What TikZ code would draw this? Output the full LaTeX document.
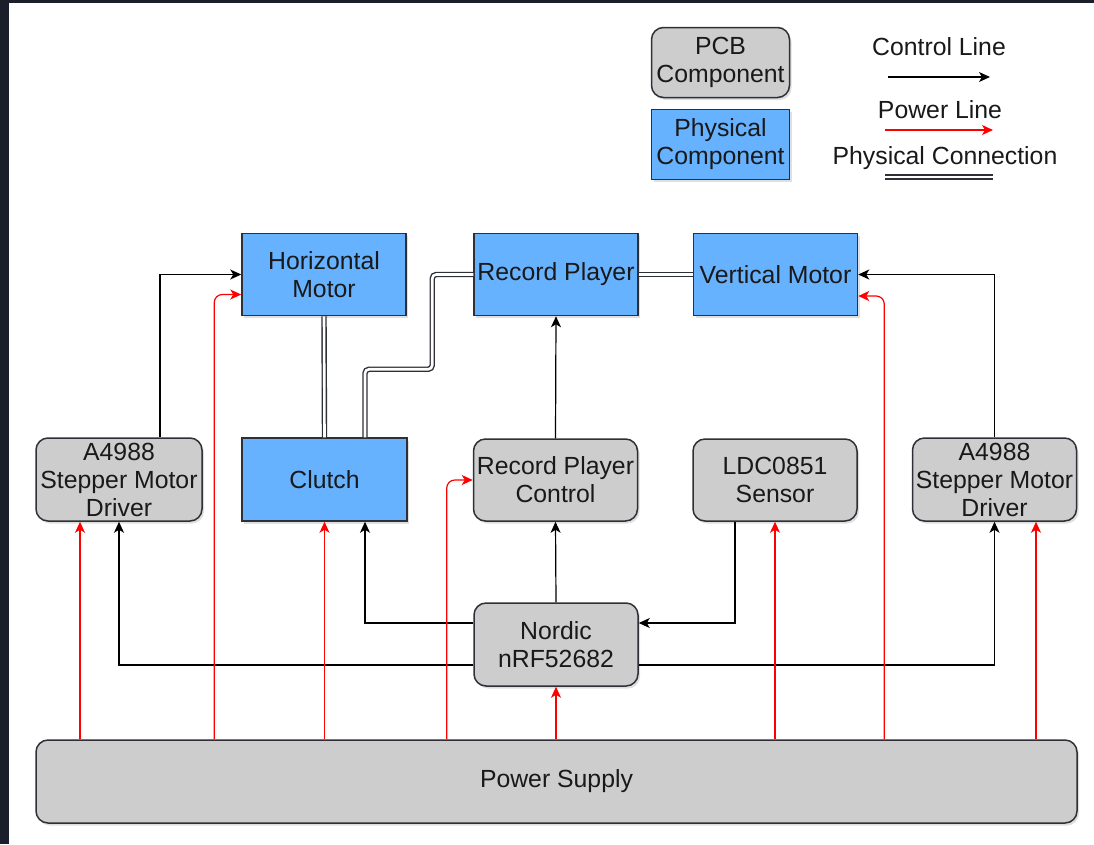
\documentclass[tikz,border=0pt]{standalone}
\usepackage{fontspec}
\setmainfont{Liberation Sans}
\usetikzlibrary{arrows.meta,shadows,calc}
\definecolor{bgdark}{RGB}{27,31,42}
\definecolor{physblue}{RGB}{102,178,255}
\definecolor{pcbgray}{RGB}{205,205,205}
\definecolor{edgedark}{RGB}{45,48,54}
\definecolor{pwrred}{RGB}{255,0,0}
\definecolor{txt}{RGB}{25,25,25}
\tikzset{
  box/.style={draw=edgedark, line width=1.5pt, minimum width=164pt, minimum height=82pt,
    inner sep=0pt, align=center, text=txt, font=\fontsize{24.8}{28}\selectfont,
    drop shadow={opacity=0.25, shadow xshift=2pt, shadow yshift=-2.5pt}},
  pcb/.style={box, fill=pcbgray, rounded corners=12pt},
  phys/.style={box, fill=physblue},
  lbl/.style={inner sep=0pt, text=txt, font=\fontsize{24.8}{28}\selectfont},
  ctl/.style={draw=black, line width=1.2pt, -{Stealth[length=11pt,width=10pt,inset=3pt]}},
  pwr/.style={draw=pwrred, line width=1.2pt, rounded corners=8pt, -{Stealth[length=11pt,width=10pt,inset=3pt]}},
  link/.style={draw=edgedark, line width=1.4pt, double=white, double distance=2.6pt, rounded corners=4pt},
}
\begin{document}
\begin{tikzpicture}[x=1pt,y=-1pt]
\fill[bgdark] (0,0) rectangle (1094,844);
\fill[white] (8.5,2.5) rectangle (1094,844);
\useasboundingbox (0,0) rectangle (1094,844);

% legend
\node[pcb, minimum width=138pt, minimum height=70pt] (lpcb) at (720.5,62.5) {PCB\\Component};
\node[phys, minimum width=138pt, minimum height=70pt] (lphys) at (720.5,144.5) {Physical\\Component};
\node[lbl] (lctl) at (939,47) {Control Line};
\node[lbl] (lpwr) at (940,110) {Power Line};
\node[lbl] (llink) at (945,158) {Physical Connection};
\coordinate (c1a) at (888,77); \coordinate (c1b) at (990,77);
\coordinate (c2a) at (885,130); \coordinate (c2b) at (993,130);
\coordinate (c3a) at (885,177); \coordinate (c3b) at (993,177);
\draw[ctl] (c1a) -- (c1b);
\draw[pwr] (c2a) -- (c2b);
\draw[link] (c3a) -- (c3b);

% main nodes
\node[phys] (hm) at (324,274.5) {Horizontal\\Motor};
\node[phys] (rp) at (556,274.5) {Record Player};
\node[phys] (vm) at (775.5,274.5) {Vertical Motor};
\node[pcb, minimum width=166pt, minimum height=83pt] (drvL) at (119,479.5) {A4988\\Stepper Motor\\Driver};
\node[phys, minimum width=165pt, minimum height=83pt] (clutch) at (324.5,479.5) {Clutch};
\node[pcb] (rpc) at (555.5,480) {Record Player\\Control};
\node[pcb] (ldc) at (775,480) {LDC0851\\Sensor};
\node[pcb, minimum height=83pt] (drvR) at (994.5,479.5) {A4988\\Stepper Motor\\Driver};
\node[pcb, minimum height=83pt] (nordic) at (556,644.5) {Nordic\\nRF52682};
\node[pcb, minimum width=1041pt, minimum height=83pt] (ps) at (556.5,781.5) {Power Supply};

% physical connections
\draw[link] (hm.south) -- (clutch.north);
\draw[link] ([xshift=40.5pt]clutch.north) -- ++(0,-68) -| ([xshift=-41pt]rp.west) -- (rp.west);
\draw[link] (rp.east) -- (vm.west);

% control lines
\draw[ctl] ([xshift=41pt]drvL.north) |- (hm.west);
\draw[ctl] ([yshift=21.5pt]nordic.west) -| ([xshift=40.5pt]clutch.south);
\draw[ctl] ([yshift=-20.5pt]nordic.west) -| (drvL.south);
\draw[ctl] (nordic.north) -- (rpc.south);
\draw[ctl] (rpc.north) -- (rp.south);
\draw[ctl] ([xshift=-40pt]ldc.south) |- ([yshift=21.5pt]nordic.east);
\draw[ctl] ([yshift=-20.5pt]nordic.east) -| (drvR.south);
\draw[ctl] (drvR.north) |- (vm.east);

% power lines
\draw[pwr] ([xshift=-39pt]drvL.south |- ps.north) -- ([xshift=-39pt]drvL.south);
\draw[pwr] ([xshift=-27pt]hm.west |- ps.north) |- ([yshift=-20pt]hm.west);
\draw[pwr] (clutch.south |- ps.north) -- (clutch.south);
\draw[pwr] ([xshift=-26pt]rpc.west |- ps.north) |- (rpc.west);
\draw[pwr] (nordic.south |- ps.north) -- (nordic.south);
\draw[pwr] (ldc.south |- ps.north) -- (ldc.south);
\draw[pwr] ([xshift=26pt]vm.east |- ps.north) |- ([yshift=-21.5pt]vm.east);
\draw[pwr] ([xshift=41.5pt]drvR.south |- ps.north) -- ([xshift=41.5pt]drvR.south);
\end{tikzpicture}
\end{document}
